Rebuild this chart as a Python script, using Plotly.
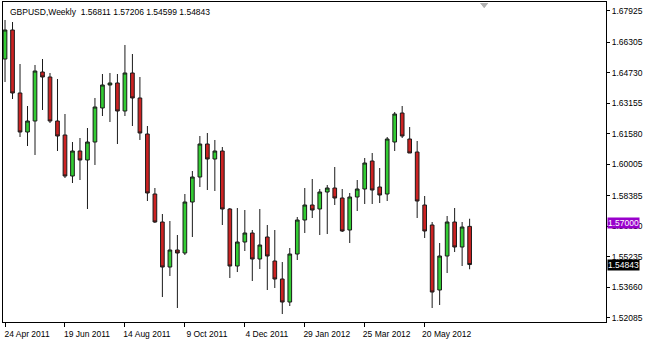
import pandas as pd
import plotly.graph_objects as go

# ---- data ----
start_week = "2011-04-24"
n_weeks = 63
dates = list(pd.date_range(start_week, periods=n_weeks, freq="7D"))

opens = [1.65448, 1.66945, 1.63694, 1.61681, 1.62249, 1.64777, 1.64519, 1.62249, 1.61527, 1.59411,
         1.60701, 1.60237, 1.61165, 1.62920, 1.64107, 1.64210, 1.62765, 1.64726, 1.63436, 1.61578,
         1.58482, 1.57037, 1.54715, 1.55593, 1.55438, 1.58069, 1.59359, 1.61062, 1.60288, 1.60701,
         1.57708, 1.54767, 1.56005, 1.56470, 1.55128, 1.56263, 1.55025, 1.54096, 1.52909, 1.55386,
         1.57141, 1.57915, 1.57708, 1.58585, 1.58792, 1.58276, 1.56625, 1.58327, 1.58740, 1.60185,
         1.58843, 1.58482, 1.61165, 1.62662, 1.61320, 1.60649, 1.57915, 1.56883, 1.53529, 1.55283,
         1.57037, 1.55747, 1.56811]
highs = [1.67461, 1.67357, 1.65190, 1.63023, 1.65139, 1.65448, 1.64726, 1.64416, 1.62610, 1.61165,
         1.61372, 1.61888, 1.63436, 1.64674, 1.64726, 1.64674, 1.66171, 1.65706, 1.64519, 1.61991,
         1.58792, 1.57450, 1.57089, 1.56367, 1.58482, 1.59669, 1.61475, 1.61630, 1.61269, 1.60907,
         1.57760, 1.57760, 1.57657, 1.56625, 1.57708, 1.56883, 1.56625, 1.54973, 1.55696, 1.57295,
         1.58792, 1.59256, 1.58740, 1.58947, 1.59875, 1.58740, 1.58534, 1.59205, 1.60340, 1.60598,
         1.59824, 1.61423, 1.62713, 1.63023, 1.61939, 1.61217, 1.58379, 1.57037, 1.55954, 1.57347,
         1.57760, 1.57037, 1.57206]
lows = [1.64261, 1.63384, 1.61423, 1.60959, 1.60495, 1.62817, 1.62146, 1.60701, 1.59308, 1.59050,
        1.59205, 1.57708, 1.59979, 1.62507, 1.62197, 1.61062, 1.62507, 1.61991, 1.61269, 1.58121,
        1.56986, 1.53167, 1.54251, 1.52600, 1.55335, 1.56263, 1.58843, 1.58689, 1.58637, 1.56883,
        1.54148, 1.54457, 1.55541, 1.53993, 1.54612, 1.53529, 1.53632, 1.52290, 1.52703, 1.55077,
        1.56470, 1.57244, 1.56367, 1.56418, 1.57915, 1.56521, 1.55954, 1.57605, 1.57966, 1.57966,
        1.58018, 1.58121, 1.60701, 1.61372, 1.60598, 1.57244, 1.56212, 1.52600, 1.52755, 1.54406,
        1.55489, 1.54767, 1.54599]
closes = [1.66945, 1.63694, 1.61681, 1.62249, 1.64829, 1.64519, 1.62249, 1.61475, 1.59411, 1.60701,
          1.60237, 1.61165, 1.62971, 1.64107, 1.64210, 1.62765, 1.64726, 1.63436, 1.61630, 1.58534,
          1.57037, 1.54715, 1.55593, 1.55438, 1.58069, 1.59359, 1.61062, 1.60288, 1.60701, 1.57708,
          1.54767, 1.56005, 1.56470, 1.55128, 1.55851, 1.55283, 1.54096, 1.52909, 1.55386, 1.57141,
          1.57915, 1.57657, 1.58585, 1.58792, 1.58276, 1.56573, 1.58327, 1.58740, 1.60082, 1.58689,
          1.58431, 1.61320, 1.62610, 1.61475, 1.60598, 1.58121, 1.56573, 1.53425, 1.55283, 1.57037,
          1.55747, 1.56779, 1.54843]

x_tick_dates = ["2011-04-24", "2011-06-19", "2011-08-14", "2011-10-09",
                "2011-12-04", "2012-01-29", "2012-03-25", "2012-05-20"]
x_tick_labels = ["24 Apr 2011", "19 Jun 2011", "14 Aug 2011", "9 Oct 2011",
                 "4 Dec 2011", "29 Jan 2012", "25 Mar 2012", "20 May 2012"]
y_tick_values = [1.67925, 1.66305, 1.64730, 1.63155, 1.61580, 1.60005,
                 1.58385, 1.56810, 1.55235, 1.53660, 1.52085]
y_tick_labels = ["1.67925", "1.66305", "1.64730", "1.63155", "1.61580", "1.60005",
                 "1.58385", "1.56810", "1.55235", "1.53660", "1.52085"]

level_price = 1.57000
level_label = "1.57000"
bid_price = 1.54843
bid_label = "1.54843"
header = "GBPUSD,Weekly  1.56811 1.57206 1.54599 1.54843"

# ---- figure ----
FONT = "Liberation Sans, Arial, sans-serif"
FS = 8.5

fig = go.Figure()
fig.add_trace(go.Candlestick(
    x=dates, open=opens, high=highs, low=lows, close=closes,
    increasing=dict(fillcolor="#33CC33", line=dict(color="#1a1a1a", width=1)),
    decreasing=dict(fillcolor="#CC2222", line=dict(color="#1a1a1a", width=1)),
    whiskerwidth=0, showlegend=False, hoverinfo="skip",
))

fig.add_hline(y=level_price, line=dict(color="#9933CC", width=1), layer="below")
fig.add_hline(y=bid_price, line=dict(color="#C0C0C0", width=1), layer="below")

x_left = pd.Timestamp(start_week) - pd.Timedelta(days=1.9)
x_right = pd.Timestamp(start_week) + pd.Timedelta(days=561.4)

fig.update_layout(
    width=645, height=341,
    margin=dict(l=3, r=39, t=2, b=19),
    paper_bgcolor="white", plot_bgcolor="white",
    font=dict(family=FONT, size=FS, color="black"),
    boxgap=0.3,
    xaxis=dict(
        rangeslider=dict(visible=False),
        range=[x_left, x_right],
        tickmode="array", tickvals=x_tick_dates, ticktext=x_tick_labels,
        ticks="outside", ticklen=4, tickcolor="black", tickwidth=1,
        showgrid=False, zeroline=False,
        showline=True, linecolor="black", linewidth=1, mirror=True,
        ticklabelshift=22, tickfont=dict(family=FONT, size=FS, color="black"),
    ),
    yaxis=dict(
        side="right",
        range=[1.51878, 1.68389],
        tickmode="array", tickvals=y_tick_values, ticktext=y_tick_labels,
        ticks="outside", ticklen=3, tickcolor="black", tickwidth=1,
        showgrid=False, zeroline=False,
        showline=True, linecolor="black", linewidth=1, mirror=True,
        tickfont=dict(family=FONT, size=FS, color="black"),
    ),
    annotations=[
        dict(text=header, xref="paper", yref="paper", x=5 / 603, y=1 - 10 / 320,
             xanchor="left", yanchor="middle", showarrow=False,
             font=dict(family=FONT, size=FS, color="black")),
        dict(text=level_label, xref="paper", yref="y", x=1.0, y=level_price,
             xanchor="left", yanchor="middle", showarrow=False,
             bgcolor="#9900CC", borderpad=0, xshift=1,
             font=dict(family=FONT, size=FS, color="white")),
        dict(text=bid_label, xref="paper", yref="y", x=1.0, y=bid_price,
             xanchor="left", yanchor="middle", showarrow=False,
             bgcolor="black", borderpad=0, xshift=1,
             font=dict(family=FONT, size=FS, color="white")),
    ],
    shapes=[
        dict(type="path", xref="paper", yref="paper", xsizemode="pixel", ysizemode="pixel",
             xanchor=0.798, yanchor=1, path="M-4,-1 L4,-1 L0,-6 Z",
             fillcolor="#B0B0B0", line=dict(width=0)),
    ],
)

fig.write_html("out.html")
